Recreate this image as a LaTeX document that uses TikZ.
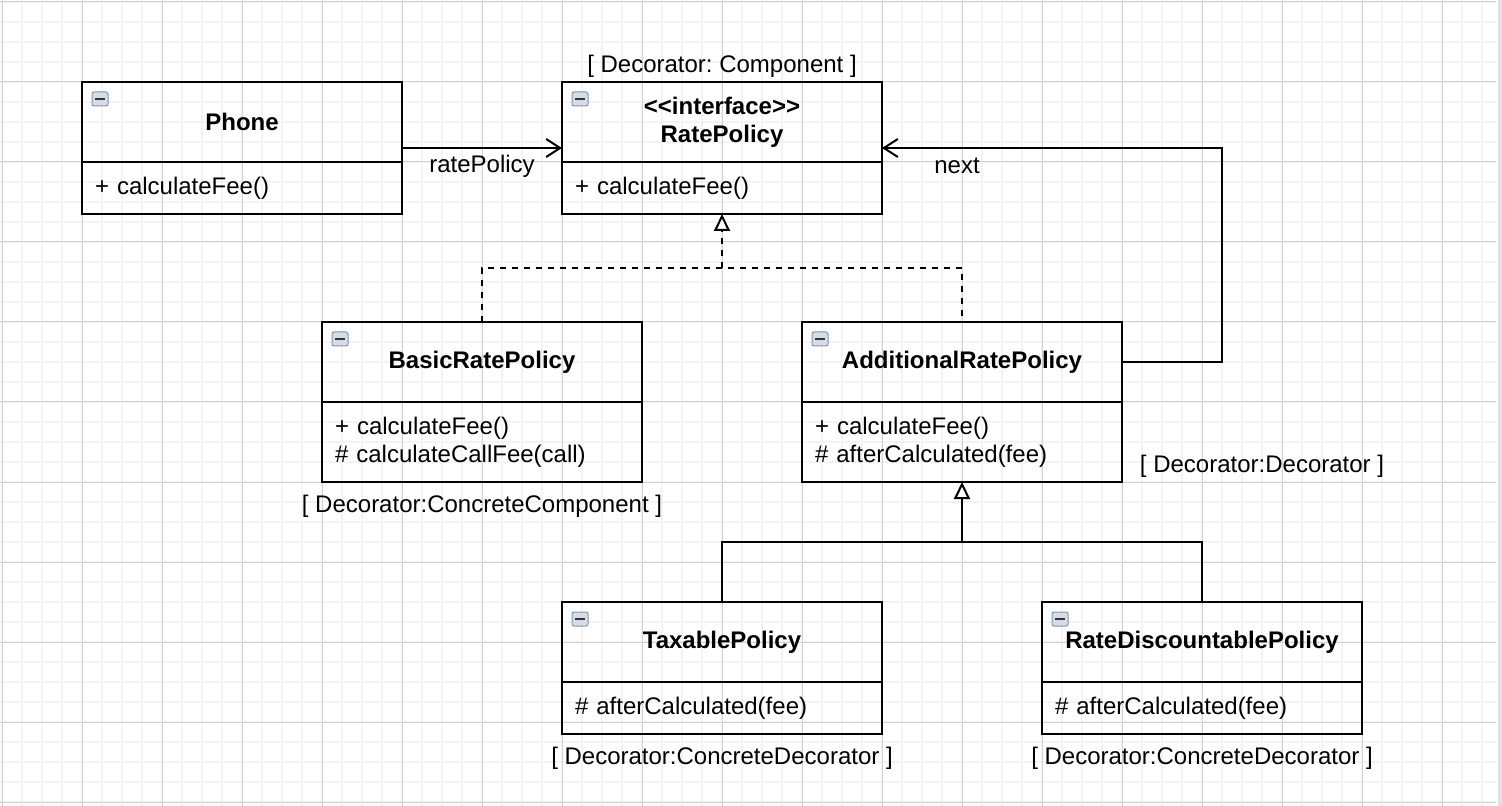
\documentclass[tikz,border=0pt]{standalone}
\usepackage{fontspec}
\setmainfont{Liberation Sans}
\usetikzlibrary{arrows.meta,positioning}
\frenchspacing
\definecolor{gridminor}{HTML}{F3F3F3}
\definecolor{gridmajor}{HTML}{D2D2D2}
\definecolor{iconfill}{HTML}{D3DCE7}
\definecolor{iconedge}{HTML}{8796AA}
\tikzset{
  head/.style={draw,line width=1pt,outer sep=0pt,minimum width=160pt,minimum height=40pt,inner sep=0pt,align=center,font=\fontsize{12}{14}\selectfont\bfseries},
  body/.style={draw,line width=1pt,outer sep=0pt,text width=147pt,inner xsep=6.5pt,inner ysep=0pt,align=left,font=\fontsize{12}{14}\selectfont},
  lbl/.style={font=\fontsize{12}{14}\selectfont,yshift=-1pt},
  assoc/.style={line width=1pt,-{Straight Barb[length=7pt,width=9pt]}},
  realize/.style={line width=1pt,dash pattern=on 3pt off 3pt},
  inherit/.style={line width=1pt,-{Triangle[open,length=8.5pt,width=8pt,fill=white]}},
}
\newcommand{\clsicon}[1]{%
  \draw[iconedge,fill=iconfill,rounded corners=1pt,line width=0.5pt] ([xshift=5pt,yshift=-5pt]#1.north west) rectangle ++(8pt,-7pt);
  \draw[line width=1pt,black!80] ([xshift=6.5pt,yshift=-8.5pt]#1.north west) -- ++(5pt,0);
}
\begin{document}
\begin{tikzpicture}[x=0.5pt,y=-0.5pt,>=latex]
   %background grid
   \useasboundingbox (0,0) rectangle (1502,806);
   \fill[white] (0,0) rectangle (1502,806);
   \foreach \x in {2,22,...,1496} \draw[gridminor,line width=1pt] (\x,0) -- (\x,806);
   \foreach \y in {2,22,...,806} \draw[gridminor,line width=1pt] (0,\y) -- (1496,\y);
   \foreach \x in {2,82,...,1496} \draw[gridmajor,line width=0.5pt] (\x,0) -- (\x,806);
   \foreach \y in {2,82,...,806} \draw[gridmajor,line width=0.5pt] (0,\y) -- (1496,\y);
   \fill[black!12] (1498,0) rectangle (1502,806);
   %classes
   \node[head,anchor=north west] (phone) at (82,82) {Phone};
   \node[body,minimum height=26pt,anchor=north] (phoneb) at (phone.south) {+ calculateFee()};
   \node[head,anchor=north west] (rate) at (562,82) {<\kern0pt<interface>\kern0pt>\\RatePolicy};
   \node[body,minimum height=26pt,anchor=north] (rateb) at (rate.south) {+ calculateFee()};
   \node[head,anchor=north west] (basic) at (322,322) {BasicRatePolicy};
   \node[body,minimum height=40pt,anchor=north] (basicb) at (basic.south) {+ calculateFee()\\\# calculateCallFee(call)};
   \node[head,anchor=north west] (addl) at (802,322) {AdditionalRatePolicy};
   \node[body,minimum height=40pt,anchor=north] (addlb) at (addl.south) {+ calculateFee()\\\# afterCalculated(fee)};
   \node[head,anchor=north west] (tax) at (562,602) {TaxablePolicy};
   \node[body,minimum height=26pt,anchor=north] (taxb) at (tax.south) {\# afterCalculated(fee)};
   \node[head,anchor=north west] (disc) at (1042,602) {RateDiscountablePolicy};
   \node[body,minimum height=26pt,anchor=north] (discb) at (disc.south) {\# afterCalculated(fee)};
   \foreach \c in {phone,rate,basic,addl,tax,disc} {\clsicon{\c}}
   %roles
   \node[lbl] (rolecomp) at (722,64) {[ Decorator: Component ]};
   \node[lbl] (roleconc) at (482,504) {[ Decorator:ConcreteComponent ]};
   \node[lbl] (roledeco) at (1262,464) {[ Decorator:Decorator ]};
   \node[lbl] (roletax) at (722,756) {[ Decorator:ConcreteDecorator ]};
   \node[lbl] (roledisc) at (1202,756) {[ Decorator:ConcreteDecorator ]};
   %associations
   \draw[assoc] ([yshift=7pt]phone.south east) -- ([yshift=7pt]rate.south west)
      node[lbl,midway,yshift=-8pt] (ratelbl) {ratePolicy};
   \draw[assoc] (addl.east) -- ++(50pt,0) |- ([yshift=7pt]rate.south east);
   \node[lbl] (nextlbl) at ([xshift=37.5pt,yshift=-1pt]rate.south east) {next};
   %realization
   \coordinate (rj) at (722,268);
   \draw[realize] (basic.north) |- (rj) -| (addl.north);
   \draw[realize,inherit] (rj) -- (rateb.south);
   %generalization
   \coordinate (gj) at (962,542);
   \draw[line width=1pt] (tax.north) |- (gj) -| (disc.north);
   \draw[inherit] (gj) -- (addlb.south);
\end{tikzpicture}
\end{document}
